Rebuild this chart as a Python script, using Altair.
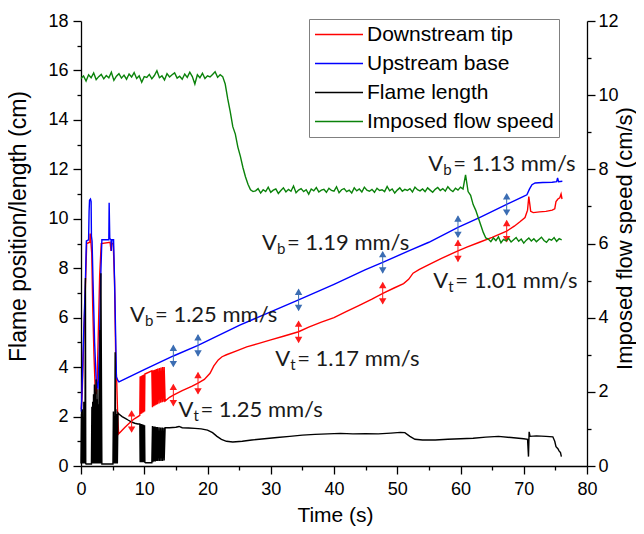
import altair as alt
import pandas as pd

SERIES = ["Downstream tip", "Upstream base", "Flame length", "Imposed flow speed"]
COLORS = ["#ff0000", "#0000ff", "#000000", "#0a820a"]

# Downstream tip (cm) : [time s, position cm]
red_pts = [
    [0.05, 2.3], [0.2, 3.0], [0.4, 4.8], [0.6, 6.5], [0.75, 7.7], [0.9, 9.0], [1.4, 9.05], [1.45, 9.4],
    [1.55, 9.1], [1.7, 8.6], [1.85, 6.5], [2.05, 4.5], [2.25, 3.1], [2.4, 2.9], [2.55, 3.4], [2.75, 5.5],
    [2.95, 7.7], [3.2, 9.0], [4.6, 9.05], [4.75, 8.7], [4.85, 9.0], [5.1, 9.0], [5.3, 7.5], [5.5, 4.2],
    [5.65, 3.4], [5.8, 2.0], [5.95, 1.3], [6.5, 1.45], [7.0, 1.58], [7.5, 1.7], [8.0, 1.82], [8.5, 1.92],
    [9.0, 2.0], [9.3, 2.05], [9.35, 3.62], [9.45, 2.1], [9.5, 3.64], [9.6, 2.12], [9.65, 3.66], [9.75, 2.15],
    [9.8, 3.68], [9.9, 2.17], [9.95, 3.7], [10.05, 2.2], [10.1, 3.72], [11.2, 3.85], [11.3, 2.38],
    [11.35, 3.86], [11.5, 2.42], [11.55, 3.88], [11.7, 2.45], [11.75, 3.9], [11.9, 2.48], [11.95, 3.92],
    [12.1, 2.5], [12.15, 3.94], [12.35, 2.53], [12.4, 3.96], [12.6, 2.56], [12.65, 3.98], [12.85, 2.58],
    [12.9, 4.0], [13.1, 2.6], [13.15, 4.0], [13.3, 2.63], [14.0, 2.78], [14.6, 2.87], [16.0, 3.05],
    [17.5, 3.22], [18.5, 3.35], [19.5, 3.5], [20.4, 3.75], [21.0, 4.05], [21.7, 4.29], [22.3, 4.42],
    [23.0, 4.5], [24.5, 4.65], [26.2, 4.82], [28.0, 4.95], [30.0, 5.1], [32.0, 5.25], [34.4, 5.43],
    [36.0, 5.62], [38.0, 5.82], [40.0, 6.0], [42.0, 6.25], [44.0, 6.5], [46.0, 6.75], [47.8, 6.99],
    [49.5, 7.2], [51.0, 7.38], [51.8, 7.55], [52.5, 7.8], [53.5, 7.95], [55.0, 8.15], [57.0, 8.4],
    [59.6, 8.7], [61.0, 8.85], [63.0, 9.05], [65.0, 9.25], [67.3, 9.5], [68.5, 9.7], [69.4, 9.88],
    [70.2, 10.05], [70.6, 10.35], [70.8, 10.9], [70.95, 10.6], [71.1, 10.3], [71.5, 10.25], [72.5, 10.28],
    [73.5, 10.3], [74.5, 10.35], [74.9, 10.4], [75.1, 10.7], [75.4, 10.8], [75.7, 10.85], [75.9, 11.0],
    [76.05, 10.8],
]

# Upstream base (cm)
blue_pts = [
    [0.05, 2.2], [0.15, 2.95], [0.4, 5.2], [0.7, 7.5], [0.85, 9.1], [1.2, 9.15], [1.28, 10.3], [1.35, 10.75],
    [1.5, 10.8], [1.6, 10.7], [1.65, 9.3], [1.75, 9.1], [1.9, 7.5], [2.15, 5.0], [2.4, 3.5], [2.7, 3.1],
    [2.9, 4.8], [3.1, 7.5], [3.3, 9.15], [4.4, 9.15], [4.45, 10.65], [4.55, 9.2], [4.75, 9.15], [4.8, 8.7],
    [4.9, 9.15], [5.15, 9.15], [5.35, 7.0], [5.6, 3.6], [5.85, 3.45], [6.0, 3.4], [10.0, 3.9], [14.6, 4.45],
    [18.5, 4.88], [25.1, 5.7], [34.4, 6.72], [40.0, 7.35], [44.9, 7.93], [47.7, 8.24], [52.0, 8.72],
    [55.0, 9.05], [59.6, 9.65], [63.0, 10.05], [67.3, 10.58], [69.9, 10.9], [70.5, 10.97], [70.9, 11.2],
    [71.3, 11.38], [71.8, 11.45], [73.0, 11.47], [74.5, 11.48], [75.2, 11.5], [75.35, 11.65], [75.5, 11.5],
    [76.1, 11.52],
]

# Flame length (cm)
black_pts = [
    [0.0, 0.1], [0.08, 2.1], [0.12, 0.1], [0.2, 2.3], [0.25, 0.1], [0.32, 1.9], [0.38, 0.1], [0.45, 2.6],
    [0.5, 0.1], [0.58, 2.2], [0.62, 0.1], [0.7, 7.6], [0.75, 0.1], [0.8, 0.08], [1.65, 0.08], [1.72, 2.4],
    [1.78, 0.1], [1.85, 2.6], [1.9, 0.1], [1.98, 2.9], [2.05, 0.1], [2.12, 3.3], [2.18, 0.1], [2.25, 3.0],
    [2.3, 0.1], [2.38, 3.5], [2.45, 0.1], [2.52, 2.7], [2.6, 0.1], [2.68, 3.1], [2.75, 0.1], [2.82, 2.5],
    [2.9, 0.1], [3.0, 5.5], [3.08, 0.1], [3.15, 7.8], [3.3, 0.08], [5.05, 0.08], [5.12, 2.2], [5.2, 0.1],
    [5.26, 2.0], [5.32, 0.1], [5.4, 4.6], [5.46, 0.1], [5.52, 2.3], [5.6, 0.1], [5.68, 2.1], [5.75, 0.1],
    [5.85, 2.15], [6.0, 2.1], [6.5, 2.0], [7.0, 1.93], [7.5, 1.85], [8.0, 1.78], [8.5, 1.73], [9.0, 1.7],
    [9.3, 1.7], [9.35, 0.15], [9.45, 1.7], [9.5, 0.15], [9.6, 1.7], [9.65, 0.15], [9.75, 1.68], [9.8, 0.15],
    [9.9, 1.67], [9.95, 0.15], [10.05, 1.65], [10.1, 0.15], [10.2, 0.13], [11.2, 0.13], [11.3, 1.62],
    [11.35, 0.15], [11.5, 1.6], [11.55, 0.18], [11.7, 1.6], [11.75, 0.18], [11.9, 1.58], [11.95, 0.2],
    [12.1, 1.58], [12.15, 0.2], [12.35, 1.57], [12.4, 0.2], [12.6, 1.56], [12.65, 0.2], [12.85, 1.56],
    [12.9, 0.2], [13.1, 1.55], [13.15, 0.22], [13.3, 1.55], [14.0, 1.55], [15.0, 1.57], [15.5, 1.6],
    [16.0, 1.55], [17.0, 1.54], [18.0, 1.52], [19.0, 1.5], [20.0, 1.45], [20.8, 1.35], [21.5, 1.2],
    [22.2, 1.08], [23.0, 1.0], [24.0, 0.97], [25.5, 1.0], [27.0, 1.05], [29.0, 1.1], [31.0, 1.15],
    [33.0, 1.2], [35.0, 1.25], [37.0, 1.28], [39.0, 1.3], [41.0, 1.32], [43.0, 1.3], [45.0, 1.31],
    [47.0, 1.3], [49.0, 1.33], [50.5, 1.36], [51.2, 1.35], [52.0, 1.2], [52.8, 1.08], [54.0, 1.05],
    [56.0, 1.05], [58.0, 1.08], [60.0, 1.1], [62.0, 1.12], [64.0, 1.17], [66.0, 1.2], [68.0, 1.15],
    [70.0, 1.1], [70.6, 1.08], [70.75, 0.38], [70.85, 1.38], [71.0, 1.2], [72.0, 1.22], [73.5, 1.2],
    [74.6, 1.18], [74.9, 1.0], [75.1, 0.78], [75.4, 0.7], [75.6, 0.6], [75.8, 0.55], [75.95, 0.38],
]

# Imposed flow speed (cm/s), sampled every 0.4 s from t = 0
green_step = 0.4
green_vals = [
    10.45, 10.52, 10.38, 10.55, 10.47, 10.60, 10.42, 10.50, 10.56, 10.44,
    10.53, 10.47, 10.62, 10.40, 10.51, 10.58, 10.46, 10.54, 10.43, 10.57,
    10.49, 10.61, 10.45, 10.52, 10.35, 10.50, 10.48, 10.56, 10.44, 10.53,
    10.66, 10.47, 10.52, 10.41, 10.58, 10.49, 10.55, 10.60, 10.46, 10.51,
    10.43, 10.57, 10.48, 10.62, 10.50, 10.30, 10.55, 10.47, 10.59, 10.45,
    10.52, 10.49, 10.56, 10.63, 10.48, 10.55, 10.50,
    10.3, 9.9, 9.55, 9.15, 8.95, 8.6, 8.35, 8.05, 7.8, 7.6, 7.45, 7.4,
    7.42, 7.48, 7.36, 7.45, 7.40, 7.52, 7.38, 7.44, 7.47, 7.35,
    7.43, 7.50, 7.39, 7.46, 7.41, 7.55, 7.37, 7.44, 7.48, 7.40,
    7.45, 7.33, 7.47, 7.42, 7.51, 7.39, 7.44, 7.46, 7.38, 7.49,
    7.43, 7.41, 7.53, 7.37, 7.45, 7.48, 7.40, 7.44, 7.36, 7.50,
    7.42, 7.47, 7.39, 7.52, 7.44, 7.41, 7.46, 7.38, 7.49, 7.43,
    7.45, 7.40, 7.54, 7.42, 7.47, 7.36, 7.44, 7.50, 7.41, 7.46,
    7.43, 7.48, 7.39, 7.52, 7.45, 7.42, 7.47, 7.40, 7.50, 7.44,
    7.38, 7.46, 7.51, 7.43, 7.48, 7.41, 7.53, 7.45, 7.40, 7.49,
    7.44, 7.52, 7.47,
    7.85, 7.4, 7.3, 7.05, 6.9, 6.7, 6.5, 6.3, 6.15,
    6.12, 6.05, 6.15, 6.08, 6.18, 6.02, 6.11, 6.07, 6.14, 6.04,
    6.10, 6.16, 6.06, 6.12, 6.01, 6.09, 6.15, 6.07, 6.13, 6.05,
    6.11, 6.17, 6.08, 6.03, 6.12, 6.09, 6.16, 6.06, 6.13, 6.10,
]

# double-headed velocity markers (centre on the curve)
arrow_blue_t = [14.6, 18.5, 34.4, 47.7, 59.6, 67.3]
arrow_blue_v = [4.45, 4.88, 6.72, 8.24, 9.68, 10.58]
arrow_red_t = [8.0, 14.6, 18.5, 34.4, 47.7, 59.6, 67.3]
arrow_red_v = [1.8, 2.87, 3.35, 5.43, 6.99, 8.7, 9.5]

# annotations "V_sub= rest"
ann_t = [7.75, 15.4, 30.7, 28.6, 54.9, 55.7]
ann_v = [6.11, 2.27, 4.33, 9.02, 12.2, 7.5]
ann_sub = ["b", "t", "t", "b", "b", "t"]
ann_rest = ["= 1.25 mm/s", "= 1.25 mm/s", "= 1.17 mm/s", "= 1.19 mm/s", "= 1.13 mm/s", "= 1.01 mm/s"]

# ---------------------------------------------------------------- data frames
def frame(pts, name):
    return pd.DataFrame({"t": [p[0] for p in pts], "v": [p[1] for p in pts],
                         "series": name, "idx": list(range(len(pts)))})

left_df = pd.concat([frame(red_pts, SERIES[0]), frame(blue_pts, SERIES[1]),
                     frame(black_pts, SERIES[2])], ignore_index=True)
green_df = pd.DataFrame({"t": [round(i * green_step, 2) for i in range(len(green_vals))],
                         "v": green_vals, "series": SERIES[3],
                         "idx": list(range(len(green_vals)))})

arrow_df = pd.concat([
    pd.DataFrame({"t": arrow_blue_t, "v": arrow_blue_v, "ac": "#3b6db3"}),
    pd.DataFrame({"t": arrow_red_t, "v": arrow_red_v, "ac": "#ff1a1a"}),
], ignore_index=True)

ann_df = pd.DataFrame({"t": ann_t, "v": ann_v, "sub": ann_sub, "rest": ann_rest, "V": "V"})

# ---------------------------------------------------------------- scales/axes
FONT = "Liberation Sans"
x_scale = alt.Scale(domain=[0, 80], nice=False, zero=False)
yl_scale = alt.Scale(domain=[0, 18], nice=False)
yr_scale = alt.Scale(domain=[0, 12], nice=False)
color_scale = alt.Scale(domain=SERIES, range=COLORS)

common_axis = dict(grid=False, domainColor="black", domainWidth=1.3, tickColor="black",
                   tickWidth=1.3, labelColor="black", titleColor="black", labelFont=FONT,
                   titleFont=FONT, labelFontSize=18, titleFontWeight="normal",
                   labelOverlap=False, labelFlush=False)

x_axis = alt.Axis(values=list(range(0, 81, 5)),
                  labelExpr="datum.value % 10 == 0 ? datum.label : ''",
                  tickSize={"condition": {"test": "datum.value % 10 == 0", "value": 8}, "value": 4},
                  labelPadding=6, title="Time (s)", titleFontSize=21,
                  titleX=254, titleY=55, titleBaseline="alphabetic", **common_axis)

yl_axis = alt.Axis(values=list(range(0, 19)),
                   labelExpr="datum.value % 2 == 0 ? datum.label : ''",
                   tickSize={"condition": {"test": "datum.value % 2 == 0", "value": 8}, "value": 4},
                   labelPadding=5, title="Flame position/length (cm)", titleFontSize=23,
                   titleAngle=270, titleX=-56, titleY=205, titleBaseline="alphabetic", **common_axis)

yr_axis = alt.Axis(orient="right", values=list(range(0, 13)),
                   labelExpr="datum.value % 2 == 0 ? datum.label : ''",
                   tickSize={"condition": {"test": "datum.value % 2 == 0", "value": 8}, "value": 4},
                   labelPadding=3, title="Imposed flow speed (cm/s)", titleFontSize=22,
                   titleAngle=270, titleX=44, titleY=217, titleBaseline="alphabetic", **common_axis)

legend = alt.Legend(title=None, orient="none", legendX=228, legendY=-2,
                    symbolType="stroke", symbolSize=2304, symbolStrokeWidth=1.5,
                    clipHeight=21,
                    labelFont=FONT, labelFontSize=21, labelColor="black", labelLimit=400,
                    strokeColor="#808080", fillColor="white", padding=5, rowPadding=7,
                    labelOffset=3)

X = alt.X("t:Q", scale=x_scale, axis=x_axis)
YL = alt.Y("v:Q", scale=yl_scale, axis=yl_axis)

lines = alt.Chart(left_df).mark_line(strokeWidth=1.4).encode(
    x=X, y=YL,
    color=alt.Color("series:N", scale=color_scale, legend=legend),
    order="idx:Q",
)

arrow_base = alt.Chart(arrow_df).transform_calculate(
    up="datum.v + 0.33", dn="datum.v - 0.33", lo="datum.v - 0.42", hi="datum.v + 0.42")
arrow_shaft = arrow_base.mark_rule(strokeWidth=1).encode(
    x=X, y=alt.Y("lo:Q", scale=yl_scale, axis=yl_axis), y2="hi:Q",
    color=alt.Color("ac:N", scale=None))
arrow_up = arrow_base.mark_point(shape="triangle-up", filled=True, size=55, opacity=1).encode(
    x=X, y=alt.Y("up:Q", scale=yl_scale, axis=yl_axis), color=alt.Color("ac:N", scale=None))
arrow_dn = arrow_base.mark_point(shape="triangle-down", filled=True, size=55, opacity=1).encode(
    x=X, y=alt.Y("dn:Q", scale=yl_scale, axis=yl_axis), color=alt.Color("ac:N", scale=None))

TFONT = "Lato"
TCOL = "#1a1a1a"
txt_v = alt.Chart(ann_df).mark_text(align="left", baseline="middle", font=TFONT,
                                    fontSize=22, color=TCOL).encode(x=X, y=YL, text="V:N")
txt_sub = alt.Chart(ann_df).mark_text(align="left", baseline="middle", font=TFONT,
                                      fontSize=15, color=TCOL, dx=15, dy=6).encode(
    x=X, y=YL, text="sub:N")
txt_rest_b = alt.Chart(ann_df).transform_filter("datum.sub == 'b'").mark_text(
    align="left", baseline="middle", font=TFONT, fontSize=22, color=TCOL, dx=25).encode(
    x=X, y=YL, text="rest:N")
txt_rest_t = alt.Chart(ann_df).transform_filter("datum.sub == 't'").mark_text(
    align="left", baseline="middle", font=TFONT, fontSize=22, color=TCOL, dx=22).encode(
    x=X, y=YL, text="rest:N")

left = alt.layer(lines, arrow_shaft, arrow_up, arrow_dn, txt_v, txt_sub, txt_rest_b, txt_rest_t)

green = alt.Chart(green_df).mark_line(strokeWidth=1.4).encode(
    x=X, y=alt.Y("v:Q", scale=yr_scale, axis=yr_axis),
    color=alt.Color("series:N", scale=color_scale, legend=legend),
    order="idx:Q",
)

chart = alt.layer(left, green).resolve_scale(y="independent").properties(
    width=506, height=445,
    autosize=alt.AutoSizeParams(type="none"),
    padding={"left": 73, "top": 13, "right": 49, "bottom": 60},
    background="white",
).configure_view(stroke=None)

chart.save("out.html", embed_options={"renderer": "svg", "actions": False})
